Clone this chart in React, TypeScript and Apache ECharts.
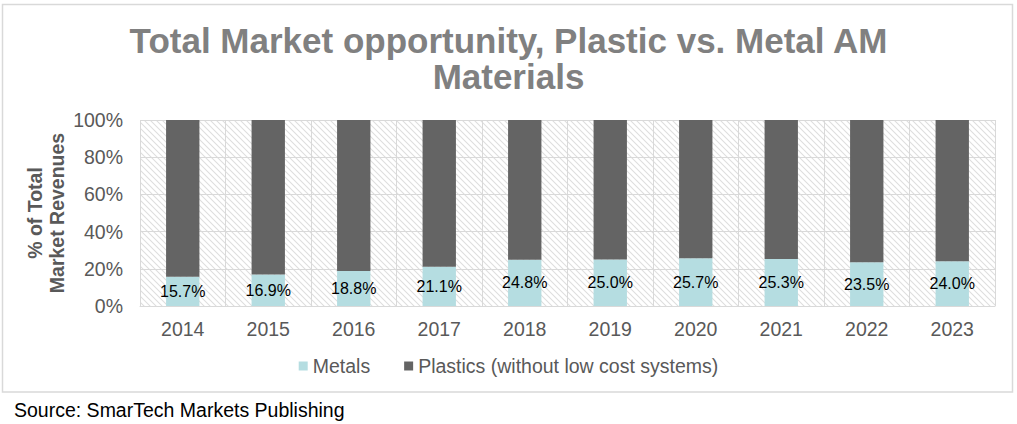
import React, { useEffect, useRef } from "react";
import * as echarts from "echarts";

const categories = ["2014", "2015", "2016", "2017", "2018", "2019", "2020", "2021", "2022", "2023"];
const metals = [15.7, 16.9, 18.8, 21.1, 24.8, 25.0, 25.7, 25.3, 23.5, 24.0];
const plastics = [84.3, 83.1, 81.2, 78.9, 75.2, 75.0, 74.3, 74.7, 76.5, 76.0];
const seriesNames = ["Metals", "Plastics (without low cost systems)"];
const titleText = "Total Market opportunity, Plastic vs. Metal AM\nMaterials";
const yAxisName = "% of Total\nMarket Revenues";
const sourceText = "Source: SmarTech Markets Publishing";

const FONT = "'Liberation Sans', Arial, sans-serif";

function makeHatch(): string {
  const c = document.createElement("canvas");
  const s = 6;
  c.width = s;
  c.height = s;
  const ctx = c.getContext("2d")!;
  ctx.fillStyle = "#ffffff";
  ctx.fillRect(0, 0, s, s);
  ctx.strokeStyle = "#dedede";
  ctx.lineWidth = 1.1;
  ctx.beginPath();
  ctx.moveTo(-1, -1);
  ctx.lineTo(s + 1, s + 1);
  ctx.moveTo(-1, s - 1);
  ctx.lineTo(1, s + 1);
  ctx.moveTo(s - 1, -1);
  ctx.lineTo(s + 1, 1);
  ctx.stroke();
  return c.toDataURL();
}

export default function App() {
  const ref = useRef<HTMLDivElement>(null);
  useEffect(() => {
    if (!ref.current) return;
    const chart = echarts.init(ref.current, undefined, { renderer: "svg" });
    const hatch = makeHatch();
    chart.setOption({
      animation: false,
      backgroundColor: "#ffffff",
      textStyle: { fontFamily: FONT },
      title: {
        text: titleText,
        left: "center",
        top: 17,
        textStyle: {
          fontFamily: FONT,
          fontSize: 35,
          fontWeight: "bold",
          color: "#808080",
          lineHeight: 36,
        },
      },
      legend: {
        data: seriesNames,
        left: "center",
        top: 351,
        icon: "rect",
        itemWidth: 9,
        itemHeight: 9,
        itemGap: 34,
        textStyle: { fontFamily: FONT, fontSize: 19.5, color: "#595959", padding: [0, 0, 0, 0] },
      },
      grid: {
        left: 140,
        right: 22,
        top: 120,
        bottom: 118,
        show: true,
        borderWidth: 0,
        backgroundColor: { image: hatch, repeat: "repeat" },
      },
      xAxis: {
        type: "category",
        data: categories,
        axisLine: { show: true, lineStyle: { color: "#d9d9d9", width: 1 } },
        axisTick: { show: false },
        splitLine: { show: true, lineStyle: { color: "#d9d9d9", width: 1 } },
        axisLabel: { fontFamily: FONT, fontSize: 19.5, color: "#595959", margin: 13 },
      },
      yAxis: {
        type: "value",
        min: 0,
        max: 100,
        interval: 20,
        axisLine: { show: false },
        axisTick: { show: false },
        splitLine: { show: true, lineStyle: { color: "#d9d9d9", width: 1 } },
        axisLabel: {
          fontFamily: FONT,
          fontSize: 19.5,
          color: "#595959",
          margin: 17,
          formatter: "{value}%",
        },
      },
      series: [
        {
          name: seriesNames[0],
          type: "bar",
          stack: "total",
          data: metals,
          barWidth: "39%",
          itemStyle: { color: "#b5dde1" },
          label: {
            show: true,
            position: "inside",
            fontFamily: FONT,
            fontSize: 16,
            color: "#000000",
            formatter: (p: any) => Number(p.value).toFixed(1) + "%",
          },
        },
        {
          name: seriesNames[1],
          type: "bar",
          stack: "total",
          data: plastics,
          barWidth: "39%",
          itemStyle: { color: "#646464" },
        },
      ],
      graphic: [
        {
          type: "rect",
          shape: { x: 2.5, y: 4.5, width: 1010, height: 387.5 },
          style: { fill: "none", stroke: "#d9d9d9", lineWidth: 1.5 },
          silent: true,
        },
        {
          type: "text",
          x: 46,
          y: 213,
          rotation: Math.PI / 2,
          style: {
            text: yAxisName,
            fontFamily: FONT,
            fontSize: 19.5,
            fontWeight: "bold",
            fill: "#595959",
            lineHeight: 22,
            align: "center",
            verticalAlign: "middle",
          },
        },
        {
          type: "text",
          left: 14,
          top: 400,
          style: {
            text: sourceText,
            fontFamily: FONT,
            fontSize: 19.5,
            fill: "#000000",
          },
        },
      ],
    });
    return () => chart.dispose();
  }, []);
  return (
    <div
      ref={ref}
      style={{ position: "fixed", left: 0, top: 0, width: 1017, height: 424 }}
    />
  );
}
